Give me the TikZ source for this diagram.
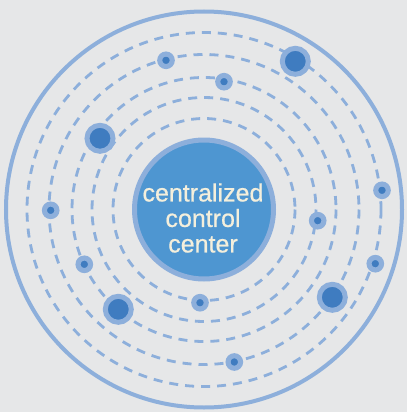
\documentclass[tikz,border=0pt]{standalone}
\usepackage{fontspec}
\setmainfont{Liberation Sans}
\newfontfamily\labelfont[FakeBold=0.6]{Liberation Sans}
\definecolor{bg}{HTML}{E6E7E8}
\definecolor{ringblue}{HTML}{8DAFDB}
\definecolor{dotblue}{HTML}{3F7CC0}
\definecolor{corefill}{HTML}{4E96D1}
\definecolor{textcream}{HTML}{F4EFDC}
\tikzset{
  orbit/.style={draw=ringblue, line width=2.8pt, dash pattern=on 9pt off 7pt},
  smallsat/.style={circle, inner sep=0pt, minimum size=12.5pt, fill=dotblue, draw=ringblue, line width=5.1pt},
  bigsat/.style={circle, inner sep=0pt, minimum size=26pt, fill=dotblue, draw=ringblue, line width=5pt},
  core/.style={circle, inner sep=0pt, minimum size=139pt, fill=corefill, draw=ringblue, line width=5pt},
  label/.style={text=textcream, align=center, inner sep=0pt, font=\labelfont\fontsize{25}{25.5}\selectfont}
}
\begin{document}
\begin{tikzpicture}[x=1pt, y=-1pt]
\fill[bg] (0,0) rectangle (407,412);
\useasboundingbox (0,0) rectangle (407,412);
\coordinate (c) at (204,209.5);
\draw[draw=ringblue, line width=4pt] (c) circle[radius=198];
\foreach \r in {91,112,132,155,177} {
  \draw[orbit] (c) circle[radius=\r];
}
\node[core] (core) at (c) {};
\node[label] (txt) at (203,218) {centralized\\control\\center};
% small satellites
\node[smallsat] (s1) at (166,60.3) {};
\node[smallsat] (s2) at (224,81.7) {};
\node[smallsat] (s3) at (382,190.3) {};
\node[smallsat] (s4) at (50.7,210.3) {};
\node[smallsat] (s5) at (317.7,220.7) {};
\node[smallsat] (s6) at (84.3,264.3) {};
\node[smallsat] (s7) at (375.3,263.7) {};
\node[smallsat] (s8) at (200,302.7) {};
\node[smallsat] (s9) at (234.3,362) {};
% big satellites
\node[bigsat] (b1) at (295.3,61.3) {};
\node[bigsat] (b2) at (100,138.3) {};
\node[bigsat] (b3) at (118.3,309.3) {};
\node[bigsat] (b4) at (332.3,297.3) {};
\end{tikzpicture}
\end{document}
